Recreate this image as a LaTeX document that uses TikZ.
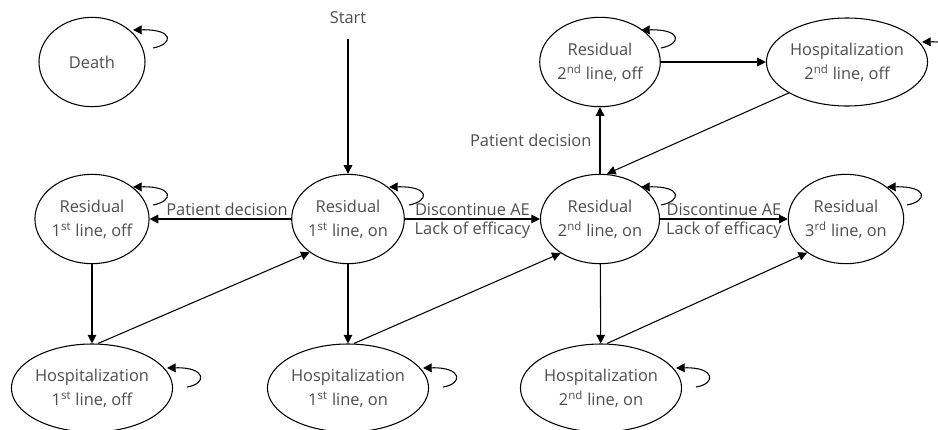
\documentclass[tikz,border=0pt]{standalone}
\usepackage{fontspec}
\setmainfont{Open Sans}
\usetikzlibrary{shapes.geometric,arrows.meta,calc}
\definecolor{txt}{HTML}{4D4D4D}
\newcommand\resloop[1]{\draw[arr] ($(#1)+(61,-14)$) .. controls ($(#1)+(82,-18)$) and ($(#1)+(82,-33)$) .. ($(#1)+(41,-32)$);}
\newcommand\hosloop[1]{\draw[arr] ($(#1)+(95,-1)$) .. controls ($(#1)+(115,-4)$) and ($(#1)+(115,-21)$) .. ($(#1)+(75,-20)$);}
\begin{document}
\begin{tikzpicture}[x=0.75pt,y=-0.75pt,
  every node/.style={text=txt,font=\fontsize{12.3}{18}\selectfont},
  res/.style={draw,ellipse,line width=0.8pt,minimum width=79.5pt,minimum height=67pt,inner sep=0pt,align=center},
  hos/.style={draw,ellipse,line width=0.8pt,minimum width=117pt,minimum height=66pt,inner sep=0pt,align=center},
  arr/.style={line width=0.8pt,-{Triangle[length=6.5pt,width=6.5pt]}},
  lbl/.style={inner sep=2pt}]
\useasboundingbox (0,0) rectangle (938,429);
\node[res] (death) at (92,62) {Death};
\node[res] (r1off) at (92,219) {Residual\\1\textsuperscript{st} line, off};
\node[res] (r1on) at (348,219) {Residual\\1\textsuperscript{st} line, on};
\node[res] (r2on) at (600,219) {Residual\\2\textsuperscript{nd} line, on};
\node[res] (r3on) at (846,219) {Residual\\3\textsuperscript{rd} line, on};
\node[res] (r2off) at (600,62) {Residual\\2\textsuperscript{nd} line, off};
\node[hos] (h2off) at (847,62) {Hospitalization\\2\textsuperscript{nd} line, off};
\node[hos] (h1off) at (92,388) {Hospitalization\\1\textsuperscript{st} line, off};
\node[hos] (h1on) at (348,388) {Hospitalization\\1\textsuperscript{st} line, on};
\node[hos] (h2on) at (601,388) {Hospitalization\\2\textsuperscript{nd} line, on};
\node (start) at (348,18) {Start};

\draw[arr] ([yshift=-8pt]start.south) -- (r1on);
\draw[arr] (r1on) -- node[above,lbl,xshift=5pt] {Patient decision} (r1off);
\draw[arr] (r1on) -- node[above,lbl] {Discontinue AE} node[below,lbl] {Lack of efficacy} (r2on);
\draw[arr] (r2on) -- node[above,lbl] {Discontinue AE} node[below,lbl] {Lack of efficacy} (r3on);
\draw[arr] (r2on) -- node[left,lbl,xshift=-4pt] {Patient decision} (r2off);
\draw[arr] (r2off) -- (h2off);
\draw[arr] (h2off.208) -- ($(r2on.north)+(7,0)$);
\draw[arr] (r1off) -- (h1off);
\draw[arr] (r1on) -- (h1on);
\draw[arr] (r2on) -- (h2on);
\draw[arr] ($(h1off.north)+(6,0)$) -- (r1on.221);
\draw[arr] ($(h1on.north)+(6,0)$) -- (r2on.221);
\draw[arr] ($(h2on.north)+(6,0)$) -- (r3on.221);

\resloop{death}
\resloop{r1off}
\resloop{r1on}
\resloop{r2on}
\resloop{r3on}
\resloop{r2off}
\hosloop{h2off}
\hosloop{h1off}
\hosloop{h1on}
\hosloop{h2on}
\end{tikzpicture}
\end{document}
